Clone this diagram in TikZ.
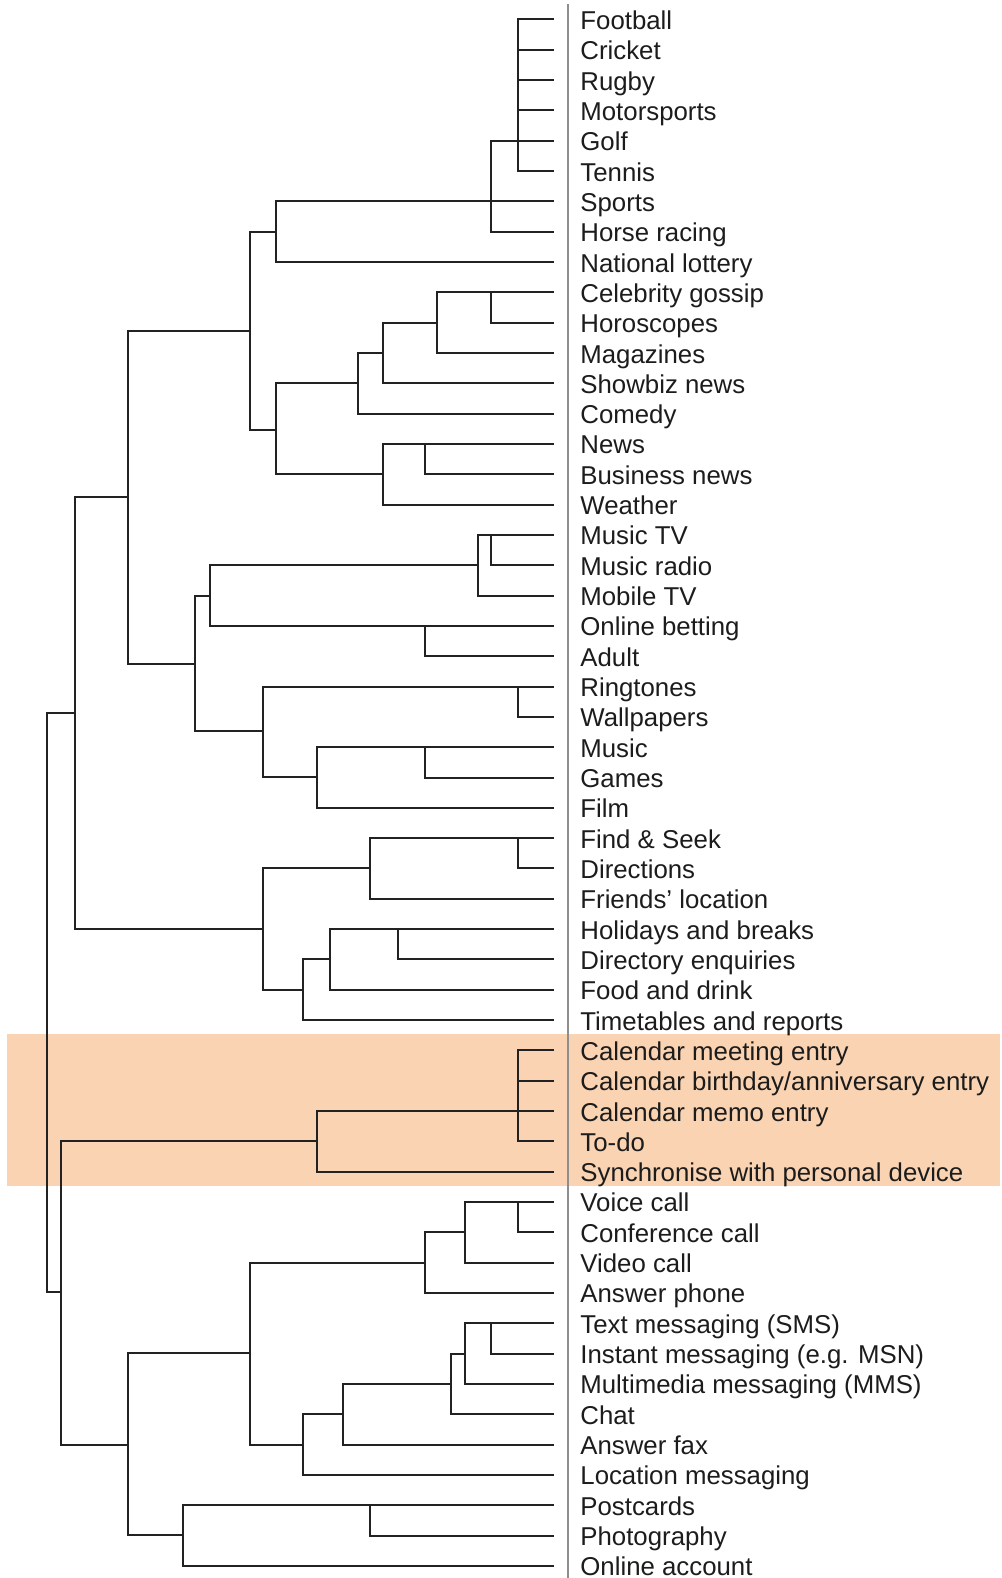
\documentclass[tikz,border=0pt]{standalone}
\usepackage{fontspec}
\setmainfont{Liberation Sans}
\usepackage{xcolor}
\usepackage{tikz}
\usetikzlibrary{positioning,calc}
\definecolor{BandPeach}{HTML}{FAD3B2}
\definecolor{AxisGrey}{HTML}{8E8E8E}
\definecolor{TextDark}{HTML}{1C1C1C}
\definecolor{LineDark}{HTML}{222222}

\begin{document}
\begin{tikzpicture}[x=0.5pt,y=-0.5pt,
    every node/.style={font=\fontsize{12.9}{14}\selectfont, text=TextDark},
    leaf/.style={anchor=base west, inner sep=0pt},
    branch/.style={line width=1pt, draw=LineDark, line cap=rect}]
  \useasboundingbox (0,0) rectangle (1001,1578);

  % highlighted group
  \fill[BandPeach] (7,1034) rectangle (1000,1186);
  \draw[AxisGrey, line width=1.3pt] (568,4) -- (568,1578);

  % leaves
  \foreach \lab [count=\i from 0] in {
    Football, Cricket, Rugby, Motorsports, Golf, Tennis, Sports,
    Horse racing, National lottery, Celebrity gossip, Horoscopes,
    Magazines, Showbiz news, Comedy, News, Business news, Weather,
    Music TV, Music radio, Mobile TV, Online betting, Adult, Ringtones,
    Wallpapers, Music, Games, Film, Find \& Seek, Directions,
    Friends’ location, Holidays and breaks, Directory enquiries,
    Food and drink, Timetables and reports, Calendar meeting entry,
    Calendar birthday/anniversary entry, Calendar memo entry, To-do,
    Synchronise with personal device, Voice call, Conference call,
    Video call, Answer phone, Text messaging (SMS),
    Instant messaging (e.g. MSN), Multimedia messaging (MMS), Chat,
    Answer fax, Location messaging, Postcards, Photography,
    Online account
  }{
    \coordinate (e\i) at (553,{19.5+30.32*\i});
    \node[leaf] (l\i) at (580,{29.5+30.32*\i}) {\lab};
  }

  % leaf stems
  \foreach \i/\x in {0/518.3, 1/518.3, 2/518.3, 3/518.3, 4/491, 5/518.3,
      6/276, 7/491, 8/276, 9/437.3, 10/491, 11/437.3, 12/383.3, 13/357.7,
      14/383.3, 15/425, 16/383.3, 17/477.7, 18/491, 19/477.7, 20/210,
      21/425, 22/262.7, 23/518.3, 24/317.3, 25/425, 26/317.3, 27/370,
      28/518.3, 29/370, 30/330, 31/397.7, 32/330, 33/302.7, 34/518.3,
      35/518.3, 36/317.3, 37/518.3, 38/317.3, 39/465, 40/518.3, 41/465,
      42/425, 43/465, 44/491, 45/465, 46/450.7, 47/342.7, 48/302.7,
      49/182.7, 50/370, 51/182.7}
    \draw[branch] (\x,0 |- e\i) -- (e\i);

  % joins spanning leaf rows
  \foreach \x/\a/\b in {518.3/0/5, 491/4/7, 276/6/8, 437.3/9/11, 491/9/10,
      383.3/10/12, 357.7/11/13, 276/12/15, 383.3/14/16, 425/14/15,
      210/18/20, 477.7/17/19, 491/17/18, 425/20/21, 518.3/22/23,
      317.3/24/26, 425/24/25, 370/27/29, 518.3/27/28, 262.7/28/32,
      330/30/32, 397.7/30/31, 302.7/31/33, 317.3/36/38, 518.3/34/37,
      465/39/41, 518.3/39/40, 425/40/42, 302.7/46/48, 342.7/45/47,
      450.7/44/46, 465/43/45, 491/43/44, 370/49/50, 182.7/49/51}
    \draw[branch] (\x,0 |- e\a) -- (\x,0 |- e\b);

  % upper joins
  \foreach \x/\ya/\yb in {250/231.74/430, 127.7/330.7/664, 75/497.3/929.1,
      195/596/731.3, 262.7/686.54/777.3, 47.3/712.7/1292.3,
      60.7/1141.34/1445, 250/1262.62/1445, 127.7/1353.3/1535}
    \draw[branch] (\x,\ya) -- (\x,\yb);

  % links between joins
  \foreach \y/\xa/\xb in {231.74/250/276, 430/250/276, 330.7/127.7/250,
      322.7/383.3/437.3, 353.02/357.7/383.3, 383.34/276/357.7,
      474.3/276/383.3, 497.3/75/127.7, 664/127.7/195, 596/195/210,
      565.26/210/477.7, 731.3/195/262.7, 777.3/262.7/317.3,
      712.7/47.3/75, 868.46/262.7/370, 929.1/75/262.7,
      959.42/302.7/330, 989.74/262.7/302.7, 1292.3/47.3/60.7,
      1141.34/60.7/317.3, 1445/60.7/127.7, 1353.3/127.7/250,
      1232.3/425/465, 1262.62/250/425, 1445/250/302.7,
      1414.22/302.7/342.7, 1383.9/342.7/450.7, 1353.58/450.7/465,
      1535/127.7/182.7}
    \draw[branch] (\xa,\y) -- (\xb,\y);
\end{tikzpicture}
\end{document}
